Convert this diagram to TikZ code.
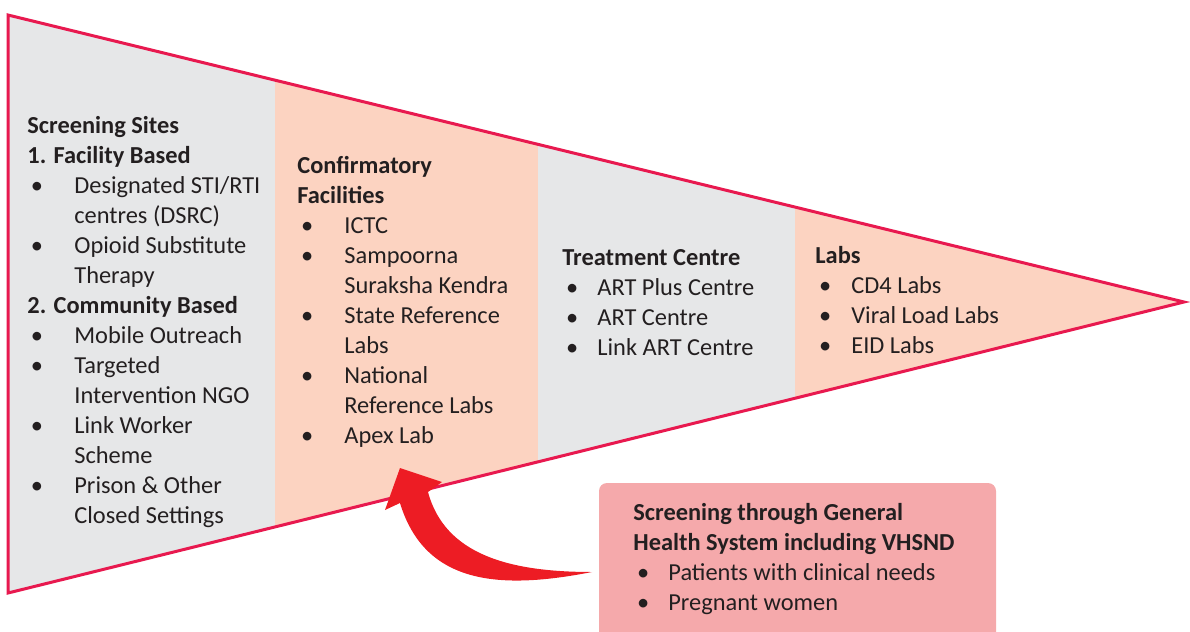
\documentclass[tikz,border=0pt]{standalone}
\usepackage{fontspec}
\setmainfont{Carlito}
\definecolor{bandgrey}{HTML}{E6E7E8}
\definecolor{bandpeach}{HTML}{FCD3C1}
\definecolor{edgered}{HTML}{E8194F}
\definecolor{boxpink}{HTML}{F5A9AB}
\definecolor{arrowred}{HTML}{ED1C24}
\definecolor{ink}{HTML}{231F20}
\newcommand{\itm}[2][23.5pt]{\makebox[#1][l]{\hspace{1.8pt}\textbullet}#2}
\newcommand{\cnt}[2][23.5pt]{\hspace*{#1}#2}
\begin{document}
\begin{tikzpicture}[x=0.5pt,y=-0.5pt]
	% base of a column node = baseline of its last line
	\tikzstyle{Column} = [anchor=base west, align=left, inner sep=0pt, text=ink, font=\fontsize{12.2}{15}\selectfont]
	\useasboundingbox (0,0) rectangle (1190,632);
	\coordinate (top) at (8,15);
	\coordinate (bottom) at (8,593);
	\coordinate (tip) at (1184,302);
	\begin{scope}
		\clip (top) -- (tip) -- (bottom) -- cycle;
		\fill[bandgrey] (0,0) rectangle (275,632);
		\fill[bandpeach] (275,0) rectangle (538,632);
		\fill[bandgrey] (538,0) rectangle (795,632);
		\fill[bandpeach] (795,0) rectangle (1190,632);
	\end{scope}
	\draw[edgered, line width=1.5pt] (top) -- (tip) -- (bottom) -- cycle;
	\node[Column] (sites) at (27,523) {\textbf{Screening Sites}\\ \textbf{1. Facility Based}\\ \itm{Designated STI/RTI}\\ \cnt{centres (DSRC)}\\ \itm{Opioid Substitute}\\ \cnt{Therapy}\\ \textbf{2. Community Based}\\ \itm{Mobile Outreach}\\ \itm{Targeted}\\ \cnt{Intervention NGO}\\ \itm{Link Worker}\\ \cnt{Scheme}\\ \itm{Prison \& Other}\\ \cnt{Closed Settings}};
	\node[Column] (confirm) at (297,443) {\textbf{Confirmatory}\\ \textbf{Facilities}\\ \itm{ICTC}\\ \itm{Sampoorna}\\ \cnt{Suraksha Kendra}\\ \itm{State Reference}\\ \cnt{Labs}\\ \itm{National}\\ \cnt{Reference Labs}\\ \itm{Apex Lab}};
	\node[Column] (treat) at (562,355) {\textbf{Treatment Centre}\\ \itm[17.5pt]{ART Plus Centre}\\ \itm[17.5pt]{ART Centre}\\ \itm[17.5pt]{Link ART Centre}};
	\node[Column] (labs) at (815,353) {\textbf{Labs}\\ \itm[18pt]{CD4 Labs}\\ \itm[18pt]{Viral Load Labs}\\ \itm[18pt]{EID Labs}};
	\fill[boxpink, rounded corners=4pt] (599,483) rectangle (996,660);
	\node[Column] (general) at (633,610) {\textbf{Screening through General}\\ \textbf{Health System including VHSND}\\ \itm[17.5pt]{Patients with clinical needs}\\ \itm[17.5pt]{Pregnant women}};
	\fill[arrowred] (592,572) .. controls (500,590) and (425,585) .. (400,503) -- (385,510) -- (400,468) -- (442,482) -- (428,492) .. controls (445,555) and (510,572) .. (592,572) -- cycle;
\end{tikzpicture}
\end{document}
